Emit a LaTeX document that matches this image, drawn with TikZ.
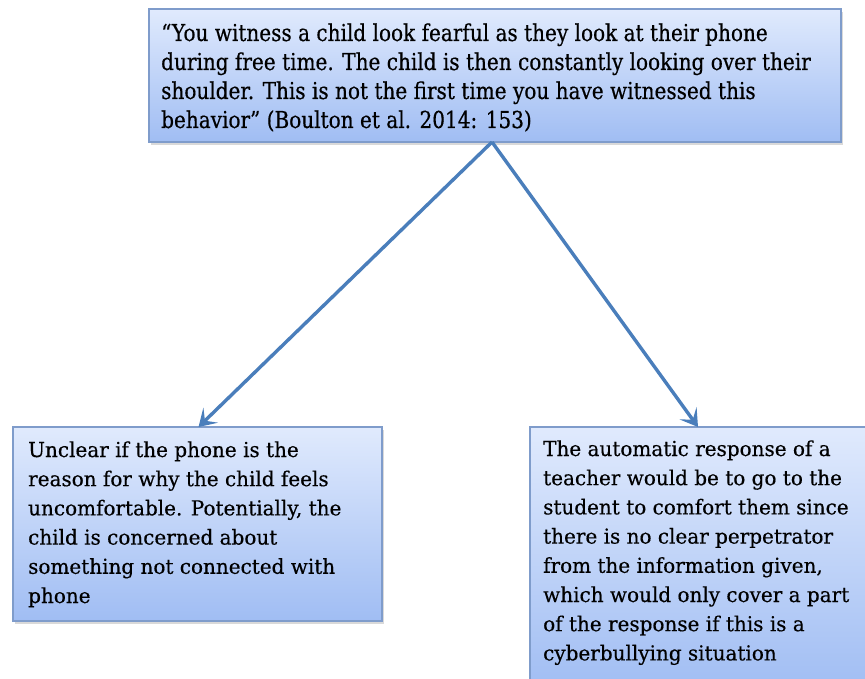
\documentclass[tikz,border=0pt]{standalone}
\usepackage{fontspec}
\usetikzlibrary{arrows.meta,shadows}
\newfontfamily\quotefont[FakeStretch=0.86,FakeBold=0.5]{DejaVu Serif}
\newfontfamily\notefont[FakeStretch=0.97,FakeBold=0.4]{DejaVu Serif}
\definecolor{boxtop}{HTML}{E0EAFD}
\definecolor{boxbottom}{HTML}{A0BDF3}
\definecolor{boxline}{HTML}{7F9CCB}
\definecolor{arrowblue}{HTML}{4A7EBB}
\begin{document}
\begin{tikzpicture}[x=1pt,y=-1pt,
  card/.style={draw=boxline, line width=1.3pt, top color=boxtop, bottom color=boxbottom,
    rectangle, inner sep=0pt, outer sep=0pt, anchor=north west,
    drop shadow={shadow xshift=2pt, shadow yshift=-3pt, opacity=0.3}},
  words/.style={anchor=base west, inner sep=0pt},
  link/.style={draw=arrowblue, line width=3.4pt,
    -{Stealth[length=17pt,width=21pt,inset=8pt]}}]
\path[use as bounding box] (0,0) rectangle (865,679);
\clip (0,0) rectangle (865,679);

% boxes
\node[card, minimum width=692pt, minimum height=133pt] (quote) at (149,9) {};
\node[card, minimum width=369pt, minimum height=194pt] (left) at (13,427) {};
\node[card, minimum width=336pt, minimum height=265pt] (right) at (530,427) {};

% arrows from the quote to both readings
\draw[link] ([xshift=-3pt]quote.south) -- ([xshift=1pt]left.north);
\draw[link] ([xshift=-3pt]quote.south) -- (right.north);

% texts
\node[words] (quotetext) at (161,41) {\parbox[t]{800pt}{\raggedright
  \quotefont\fontsize{23.3}{29}\selectfont
  “You witness a child look fearful as they look at their phone\\
  during free time. The child is then constantly looking over their\\
  shoulder. This is not the first time you have witnessed this\\
  behavior” (Boulton et al. 2014: 153)}};

\node[words] (lefttext) at (28,457) {\parbox[t]{400pt}{\raggedright
  \notefont\fontsize{20.6}{29.2}\selectfont
  Unclear if the phone is the\\
  reason for why the child feels\\
  uncomfortable. Potentially, the\\
  child is concerned about\\
  something not connected with\\
  phone}};

\node[words] (righttext) at (543,456) {\parbox[t]{400pt}{\raggedright
  \notefont\fontsize{20.6}{29.2}\selectfont
  The automatic response of a\\
  teacher would be to go to the\\
  student to comfort them since\\
  there is no clear perpetrator\\
  from the information given,\\
  which would only cover a part\\
  of the response if this is a\\
  cyberbullying situation}};
\end{tikzpicture}
\end{document}
